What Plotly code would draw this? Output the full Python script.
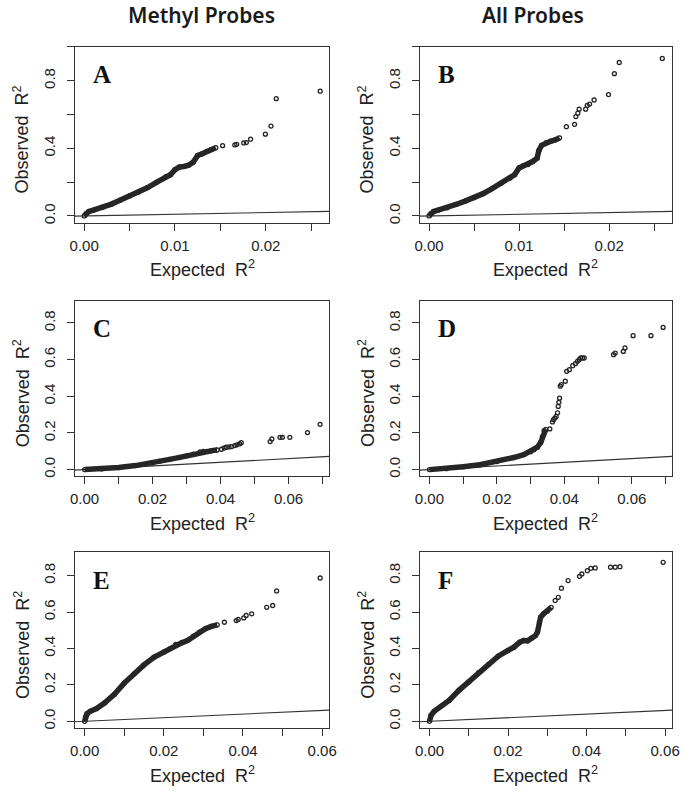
import plotly.graph_objects as go

# ---------------- data ----------------
# Panel A (Methyl probes, top)
A_dense_x = [0, 0.0002, 0.0005, 0.001, 0.002, 0.003, 0.004, 0.005, 0.006, 0.007, 0.008, 0.009,
             0.0095, 0.010, 0.0105, 0.011, 0.0115, 0.012, 0.0125, 0.013, 0.0135, 0.014, 0.0145]
A_dense_y = [0, 0.014, 0.026, 0.034, 0.05, 0.07, 0.094, 0.118, 0.142, 0.168, 0.2, 0.232,
             0.244, 0.274, 0.29, 0.293, 0.3, 0.318, 0.358, 0.368, 0.382, 0.394, 0.404]
A_tail_x = [0.01525, 0.0166, 0.0168, 0.01757, 0.01786, 0.01833, 0.01996, 0.02058, 0.02116, 0.0260]
A_tail_y = [0.416, 0.42, 0.424, 0.432, 0.434, 0.454, 0.484, 0.532, 0.694, 0.738]

# Panel B (All probes, top)
B_dense_x = [0, 0.0002, 0.0005, 0.001, 0.002, 0.003, 0.004, 0.005, 0.006, 0.007, 0.008, 0.009,
             0.0095, 0.010, 0.0105, 0.011, 0.0115, 0.012, 0.0122, 0.0125, 0.013, 0.0135, 0.014, 0.0145]
B_dense_y = [0, 0.014, 0.026, 0.034, 0.048, 0.068, 0.088, 0.108, 0.132, 0.162, 0.194, 0.224,
             0.244, 0.284, 0.298, 0.304, 0.322, 0.342, 0.388, 0.418, 0.434, 0.442, 0.45, 0.462]
B_tail_x = [0.01525, 0.01616, 0.0163, 0.01652, 0.01667, 0.01739, 0.01757, 0.01783, 0.01833,
            0.01993, 0.02058, 0.02112, 0.0259]
B_tail_y = [0.528, 0.542, 0.588, 0.608, 0.632, 0.632, 0.654, 0.662, 0.686,
            0.718, 0.842, 0.908, 0.932]

# Panel C (Methyl probes, middle)
C_dense_x = [0, 0.005, 0.01, 0.015, 0.02, 0.022, 0.025, 0.028, 0.03, 0.032, 0.034, 0.035,
             0.036, 0.037, 0.038, 0.039]
C_dense_y = [0, 0.004, 0.011, 0.022, 0.036, 0.045, 0.056, 0.067, 0.075, 0.084, 0.096, 0.1,
             0.1, 0.102, 0.105, 0.107]
C_tail_x = [0.0403, 0.0411, 0.0417, 0.0425, 0.0432, 0.0442, 0.0448, 0.0456, 0.0461,
            0.0546, 0.0551, 0.0575, 0.0582, 0.0604, 0.0656, 0.0693]
C_tail_y = [0.111, 0.118, 0.122, 0.124, 0.125, 0.131, 0.135, 0.14, 0.147,
            0.153, 0.167, 0.176, 0.176, 0.176, 0.202, 0.247]

# Panel D (All probes, middle)
D_dense_x = [0, 0.005, 0.01, 0.015, 0.02, 0.025, 0.028, 0.03, 0.031, 0.032, 0.033, 0.0335,
             0.034, 0.0345]
D_dense_y = [0, 0.005, 0.016, 0.027, 0.044, 0.066, 0.082, 0.098, 0.108, 0.122, 0.148, 0.18,
             0.213, 0.22]
D_tail_x = [0.0357, 0.0365, 0.0368, 0.0372, 0.0376, 0.038, 0.0382, 0.0384, 0.0386, 0.0388,
            0.0391, 0.0403, 0.0407, 0.0415, 0.0425, 0.0433, 0.0439, 0.0444, 0.0449, 0.0454,
            0.0459, 0.0546, 0.0551, 0.0575, 0.058, 0.0604, 0.0657, 0.0693]
D_tail_y = [0.222, 0.26, 0.272, 0.281, 0.29, 0.31, 0.345, 0.367, 0.39, 0.455,
            0.464, 0.482, 0.536, 0.545, 0.567, 0.578, 0.591, 0.6, 0.609, 0.609,
            0.609, 0.627, 0.636, 0.645, 0.664, 0.731, 0.731, 0.776]

# Panel E (Methyl probes, bottom)
E_dense_x = [0, 0.0002, 0.0006, 0.0014, 0.003, 0.005, 0.0075, 0.01, 0.0125, 0.015, 0.0175,
             0.02, 0.0215, 0.023, 0.0245, 0.026, 0.0275, 0.029, 0.0305, 0.032, 0.0335]
E_dense_y = [0, 0.024, 0.042, 0.055, 0.07, 0.1, 0.148, 0.21, 0.261, 0.31, 0.352,
             0.38, 0.398, 0.422, 0.431, 0.444, 0.468, 0.49, 0.508, 0.521, 0.53]
E_tail_x = [0.0353, 0.0383, 0.0388, 0.0402, 0.0408, 0.0422, 0.046, 0.0475, 0.0485, 0.0595]
E_tail_y = [0.544, 0.553, 0.559, 0.568, 0.581, 0.59, 0.626, 0.636, 0.716, 0.787]

# Panel F (All probes, bottom)
F_dense_x = [0, 0.0004, 0.0012, 0.005, 0.0075, 0.01, 0.0125, 0.015, 0.0175, 0.02, 0.0215,
             0.023, 0.024, 0.025, 0.026, 0.027, 0.0275, 0.028, 0.0283, 0.029, 0.03, 0.031]
F_dense_y = [0, 0.033, 0.055, 0.115, 0.17, 0.216, 0.267, 0.312, 0.358, 0.389, 0.407,
             0.435, 0.444, 0.442, 0.457, 0.471, 0.49, 0.544, 0.572, 0.59, 0.605, 0.626]
F_tail_x = [0.032, 0.0328, 0.0336, 0.0353, 0.0382, 0.0388, 0.0402, 0.0411, 0.0422, 0.0461,
            0.0473, 0.0485, 0.0595]
F_tail_y = [0.663, 0.681, 0.731, 0.773, 0.796, 0.809, 0.827, 0.84, 0.842, 0.846,
            0.846, 0.849, 0.873]

panel_letters = ["A", "B", "C", "D", "E", "F"]
column_titles = ["Methyl Probes", "All Probes"]
x_title = "Expected  R<sup>2</sup>"
y_title = "Observed  R<sup>2</sup>"

# axis set-up per row
row_xrange = [[-0.00104, 0.0270], [-0.0029, 0.0720], [-0.0025, 0.0618]]
row_yrange = [[-0.04, 1.0], [-0.037, 0.922], [-0.037, 0.928]]
row_xmajor = [0.01, 0.02, 0.02]
row_xminor = [0.005, 0.01, 0.01]
row_ymajor = [0.4, 0.2, 0.2]
row_yminor = [0.2, 0.2, 0.2]

panels = [
    (A_dense_x, A_dense_y, A_tail_x, A_tail_y),
    (B_dense_x, B_dense_y, B_tail_x, B_tail_y),
    (C_dense_x, C_dense_y, C_tail_x, C_tail_y),
    (D_dense_x, D_dense_y, D_tail_x, D_tail_y),
    (E_dense_x, E_dense_y, E_tail_x, E_tail_y),
    (F_dense_x, F_dense_y, F_tail_x, F_tail_y),
]

W, H = 690, 792
col_px = [(71, 330), (422, 679)]
row_px = [(47, 223), (301, 477), (553, 729)]

PT_COLOR = "#262626"
AX_COLOR = "#333333"
tick_font = dict(family="Liberation Sans, Arial, sans-serif", size=15, color="#222222")
title_font = dict(family="Liberation Sans, Arial, sans-serif", size=18, color="#222222")

fig = go.Figure()
layout = dict(
    width=W, height=H, autosize=False,
    margin=dict(l=0, r=0, t=0, b=0),
    paper_bgcolor="white", plot_bgcolor="white",
    showlegend=False,
)
annotations = []

for i, (dx, dy, tx, ty) in enumerate(panels):
    r, c = divmod(i, 2)
    n = i + 1
    xa = "x" if n == 1 else f"x{n}"
    ya = "y" if n == 1 else f"y{n}"
    xr = row_xrange[r]
    yr = row_yrange[r]

    # reference line y = x across the whole panel
    fig.add_trace(go.Scatter(x=xr, y=xr, mode="lines", xaxis=xa, yaxis=ya,
                             line=dict(color=AX_COLOR, width=1.1), hoverinfo="skip"))
    # dense body of the QQ curve
    fig.add_trace(go.Scatter(x=dx, y=dy, mode="lines+markers", xaxis=xa, yaxis=ya,
                             line=dict(color=PT_COLOR, width=5.5),
                             marker=dict(symbol="circle-open", size=4,
                                         line=dict(color=PT_COLOR, width=1.3))))
    # sparse tail points
    fig.add_trace(go.Scatter(x=tx, y=ty, mode="markers", xaxis=xa, yaxis=ya,
                             marker=dict(symbol="circle-open", size=4,
                                         color=PT_COLOR,
                                         line=dict(color=PT_COLOR, width=1.3))))

    x0, x1 = col_px[c]
    y0, y1 = row_px[r]
    common = dict(showline=True, mirror=True, linecolor=AX_COLOR, linewidth=1,
                  showgrid=False, zeroline=False, ticks="outside", ticklen=7,
                  tickwidth=1, tickcolor=AX_COLOR, tickfont=tick_font)
    layout["xaxis" if n == 1 else f"xaxis{n}"] = dict(
        domain=[x0 / W, x1 / W], anchor=ya, range=xr,
        tick0=0, dtick=row_xmajor[r], tickformat=".2f",
        minor=dict(ticks="outside", ticklen=7, tickwidth=1, tickcolor=AX_COLOR,
                   tick0=0, dtick=row_xminor[r], showgrid=False),
        ticklabelstandoff=2,
        **common)
    layout["yaxis" if n == 1 else f"yaxis{n}"] = dict(
        domain=[1 - y1 / H, 1 - y0 / H], anchor=xa, range=yr,
        tick0=0, dtick=row_ymajor[r], tickformat=".1f", tickangle=-90,
        minor=dict(ticks="outside", ticklen=7, tickwidth=1, tickcolor=AX_COLOR,
                   tick0=0, dtick=row_yminor[r], showgrid=False),
        ticklabelstandoff=6,
        **common)

    # panel letter
    annotations.append(dict(
        text=f"<b>{panel_letters[i]}</b>", xref=f"{xa} domain", yref=f"{ya} domain",
        x=16.5 / (x1 - x0), y=1 - 28 / (y1 - y0), xanchor="left", yanchor="middle",
        showarrow=False,
        font=dict(family="Liberation Serif, Times New Roman, serif", size=25, color="#111111")))
    # x axis title
    annotations.append(dict(
        text=x_title, xref="paper", yref="paper",
        x=(x0 + x1) / 2 / W, y=1 - (y1 + 46) / H, xanchor="center", yanchor="middle",
        showarrow=False, font=title_font))
    # y axis title
    annotations.append(dict(
        text=y_title, xref="paper", yref="paper", textangle=-90,
        x=(x0 - 54) / W, y=1 - ((y0 + y1) / 2 + 5) / H, xanchor="center", yanchor="middle",
        showarrow=False, font=title_font))

for c, t in enumerate(column_titles):
    cx = 200 if c == 0 else 537.5
    annotations.append(dict(
        text=t, xref="paper", yref="paper", x=cx / W, y=1 - 15 / H,
        xanchor="center", yanchor="middle", showarrow=False,
        font=dict(family="Noto Sans, Open Sans, sans-serif", size=21, color="#1a1a1a",
                  weight=600)))

layout["annotations"] = annotations
fig.update_layout(**layout)
# remove the browser's default 8px body margin so the figure fills the window exactly
fig.write_html("out.html",
               config={"displayModeBar": False},
               post_script="document.body.style.margin='0px';document.body.style.overflow='hidden';")
